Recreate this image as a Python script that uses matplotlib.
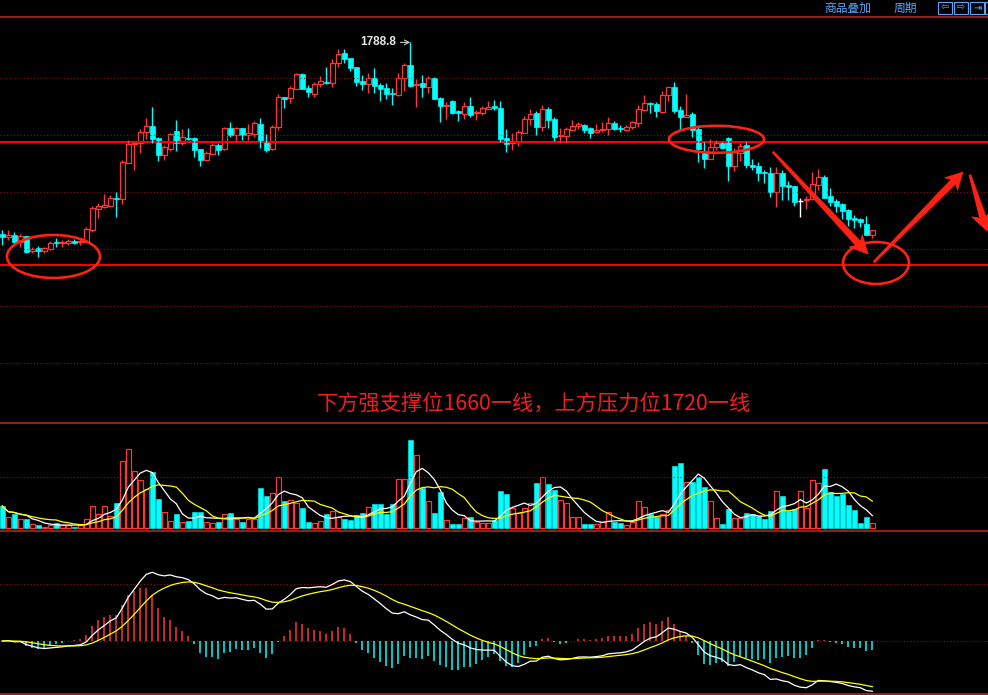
import numpy as np
import pandas as pd
import matplotlib
matplotlib.use("Agg")
import matplotlib.pyplot as plt
from matplotlib.patches import Ellipse, Polygon, Rectangle

# ── Data ─────────────────────────────────────────────────────────────────────
OPEN = [
    1693.0, 1691.5, 1692.5, 1689.0, 1692.0, 1684.3, 1686.0, 1684.7, 1685.7, 1688.8,
    1688.3, 1688.3, 1689.7, 1689.0, 1689.0, 1695.0, 1705.7, 1706.7, 1707.2, 1710.8,
    1710.7, 1728.7, 1737.8, 1738.3, 1744.2, 1746.8, 1741.0, 1732.7, 1735.7, 1744.5,
    1738.3, 1740.8, 1740.8, 1735.5, 1730.2, 1733.2, 1737.3, 1735.3, 1745.8, 1742.5,
    1745.8, 1742.5, 1743.0, 1748.0, 1739.3, 1735.3, 1746.3, 1761.3, 1760.8, 1765.7,
    1773.0, 1766.0, 1763.0, 1767.8, 1769.2, 1768.7, 1778.7, 1783.3, 1781.0, 1776.5,
    1769.5, 1768.0, 1771.0, 1767.5, 1765.8, 1763.7, 1762.5, 1770.8, 1777.5, 1767.3,
    1768.7, 1766.7, 1771.2, 1761.0, 1757.0, 1759.7, 1754.3, 1753.2, 1757.0, 1753.3,
    1753.7, 1755.7, 1757.0, 1756.0, 1741.0, 1738.5, 1739.0, 1743.7, 1750.7, 1753.5,
    1746.7, 1755.5, 1750.5, 1742.0, 1742.2, 1745.2, 1746.8, 1747.5, 1746.0, 1743.8,
    1744.8, 1745.7, 1748.3, 1746.0, 1745.2, 1746.3, 1748.7, 1755.2, 1758.7, 1758.0,
    1754.2, 1762.3, 1766.3, 1755.0, 1751.7, 1753.0, 1745.3, 1733.7, 1730.7, 1736.3,
    1738.5, 1741.0, 1727.0, 1733.7, 1737.5, 1727.7, 1727.0, 1724.2, 1723.3, 1714.2,
    1723.3, 1717.5, 1717.0, 1709.7, 1710.0, 1710.3, 1717.7, 1721.7, 1712.0, 1709.5,
    1708.0, 1705.0, 1701.0, 1700.5, 1698.0, 1692.7,
]
HIGH = [
    1695.0, 1695.0, 1694.0, 1693.0, 1692.0, 1686.7, 1687.0, 1686.7, 1689.7, 1691.0,
    1690.0, 1690.7, 1690.3, 1690.8, 1696.7, 1707.0, 1708.7, 1713.0, 1712.5, 1713.8,
    1730.0, 1740.0, 1738.7, 1745.3, 1751.0, 1756.3, 1741.3, 1737.5, 1743.7, 1750.0,
    1745.5, 1745.8, 1741.7, 1735.5, 1734.7, 1738.7, 1738.3, 1746.7, 1748.8, 1746.7,
    1745.8, 1747.8, 1749.5, 1751.0, 1743.0, 1747.5, 1763.0, 1761.7, 1767.0, 1773.7,
    1773.7, 1767.5, 1769.2, 1772.0, 1776.7, 1780.3, 1785.3, 1785.3, 1781.0, 1776.5,
    1772.3, 1773.7, 1776.0, 1768.3, 1768.3, 1765.8, 1773.7, 1778.7, 1788.8, 1770.5,
    1772.3, 1772.2, 1771.7, 1761.7, 1759.2, 1760.0, 1755.0, 1759.2, 1761.5, 1755.0,
    1757.0, 1759.5, 1760.0, 1759.5, 1745.5, 1743.3, 1745.0, 1752.0, 1755.5, 1754.5,
    1757.7, 1756.5, 1751.3, 1746.0, 1746.3, 1750.0, 1749.0, 1748.0, 1746.7, 1747.8,
    1749.0, 1751.3, 1749.3, 1747.3, 1747.5, 1749.7, 1757.5, 1762.3, 1759.2, 1759.2,
    1764.7, 1766.7, 1769.0, 1757.0, 1763.0, 1754.2, 1747.5, 1739.2, 1740.3, 1740.0,
    1739.2, 1741.7, 1735.8, 1738.3, 1739.2, 1730.3, 1728.8, 1725.0, 1726.7, 1726.3,
    1725.0, 1719.7, 1717.0, 1711.2, 1712.2, 1723.8, 1725.7, 1722.5, 1715.8, 1710.5,
    1708.3, 1705.5, 1702.5, 1700.8, 1702.0, 1695.0,
]
LOW = [
    1687.5, 1690.0, 1687.5, 1686.7, 1683.7, 1683.7, 1681.7, 1683.3, 1685.0, 1686.7,
    1686.7, 1687.5, 1688.0, 1687.5, 1688.3, 1694.2, 1701.2, 1705.8, 1706.7, 1701.7,
    1707.8, 1728.3, 1725.0, 1733.7, 1740.7, 1738.3, 1729.7, 1730.0, 1734.7, 1734.7,
    1737.5, 1740.0, 1731.7, 1727.0, 1730.0, 1733.0, 1732.5, 1735.0, 1741.7, 1739.7,
    1740.0, 1740.0, 1741.3, 1736.2, 1734.2, 1735.0, 1745.0, 1756.2, 1758.7, 1765.3,
    1765.3, 1761.7, 1761.7, 1766.3, 1768.0, 1766.7, 1776.7, 1778.3, 1774.7, 1767.2,
    1765.0, 1763.3, 1763.7, 1759.7, 1760.5, 1757.7, 1762.0, 1764.5, 1766.7, 1756.7,
    1761.7, 1763.7, 1760.3, 1749.2, 1750.5, 1753.0, 1749.5, 1750.5, 1751.7, 1750.0,
    1752.3, 1755.3, 1755.0, 1739.2, 1734.2, 1735.0, 1737.2, 1743.3, 1747.5, 1742.7,
    1744.5, 1745.8, 1739.5, 1738.3, 1738.7, 1745.0, 1745.5, 1743.7, 1741.2, 1743.3,
    1744.0, 1742.3, 1745.0, 1743.8, 1744.3, 1745.5, 1746.7, 1754.7, 1753.7, 1751.7,
    1753.3, 1759.7, 1753.3, 1745.0, 1751.7, 1741.7, 1729.2, 1725.8, 1730.7, 1735.0,
    1735.3, 1719.7, 1724.7, 1729.7, 1725.8, 1725.0, 1719.7, 1718.7, 1711.7, 1706.7,
    1710.0, 1710.0, 1707.2, 1701.3, 1705.7, 1710.0, 1715.0, 1711.2, 1707.2, 1704.2,
    1700.3, 1697.0, 1695.8, 1696.7, 1692.5, 1691.2,
]
CLOSE = [
    1691.7, 1692.5, 1689.0, 1691.8, 1684.0, 1685.3, 1684.7, 1685.8, 1688.3, 1688.3,
    1688.8, 1689.5, 1688.7, 1689.5, 1695.3, 1705.8, 1707.0, 1707.5, 1710.8, 1710.3,
    1728.8, 1738.0, 1738.3, 1744.2, 1746.8, 1740.7, 1732.5, 1736.3, 1742.8, 1738.3,
    1741.3, 1740.3, 1735.0, 1730.0, 1733.5, 1737.3, 1735.0, 1745.8, 1742.5, 1745.8,
    1742.5, 1743.3, 1748.3, 1739.0, 1735.0, 1746.3, 1761.3, 1760.7, 1765.8, 1773.0,
    1765.7, 1764.2, 1767.8, 1769.5, 1768.7, 1778.3, 1783.0, 1780.5, 1776.2, 1769.0,
    1768.0, 1770.8, 1767.2, 1765.5, 1763.0, 1762.8, 1770.8, 1777.5, 1767.0, 1768.2,
    1766.7, 1771.2, 1760.5, 1757.2, 1757.5, 1753.7, 1753.7, 1757.0, 1752.7, 1754.2,
    1755.8, 1756.3, 1756.2, 1740.5, 1738.2, 1739.3, 1744.0, 1750.3, 1753.0, 1746.7,
    1755.5, 1750.0, 1741.7, 1742.7, 1745.5, 1746.8, 1747.8, 1745.0, 1743.7, 1745.0,
    1745.7, 1748.3, 1745.7, 1745.3, 1746.5, 1749.0, 1755.5, 1758.3, 1757.8, 1754.7,
    1762.5, 1766.3, 1754.7, 1751.7, 1752.3, 1745.0, 1735.3, 1730.7, 1736.3, 1738.5,
    1736.2, 1727.0, 1733.8, 1737.2, 1727.5, 1726.7, 1723.3, 1723.3, 1714.2, 1723.3,
    1717.0, 1716.7, 1709.2, 1709.7, 1710.7, 1718.0, 1721.7, 1711.2, 1709.0, 1707.2,
    1704.7, 1700.7, 1700.2, 1699.2, 1692.5, 1695.0,
]
VOLUME = [
    65, 31, 41, 25, 26, 10, 7, 3, 8, 15,
    7, 7, 3, 7, 25, 64, 40, 64, 35, 74,
    199, 235, 169, 142, 115, 167, 86, 46, 19, 41,
    17, 21, 47, 47, 17, 13, 17, 40, 44, 27,
    17, 27, 27, 119, 95, 104, 151, 80, 83, 75,
    59, 17, 13, 20, 41, 50, 33, 27, 24, 37,
    44, 61, 71, 71, 41, 71, 145, 145, 263, 217,
    119, 80, 44, 107, 23, 11, 11, 28, 32, 16,
    13, 13, 23, 110, 101, 58, 43, 58, 73, 134,
    151, 131, 113, 83, 73, 31, 31, 11, 11, 11,
    16, 46, 18, 14, 7, 18, 80, 61, 41, 32,
    42, 53, 185, 194, 137, 138, 151, 122, 80, 28,
    11, 56, 28, 28, 44, 41, 34, 27, 50, 110,
    95, 50, 56, 110, 59, 143, 134, 176, 107, 95,
    101, 68, 53, 14, 32, 14,
]

RESISTANCE = 1738.9
SUPPORT = 1677.6
PRICE_GRID = [1770.9, 1742.4, 1713.9, 1685.4, 1656.9, 1628.4]
NOTE = "下方强支撑位1660一线，上方压力位1720一线"

# ── Colours ──────────────────────────────────────────────────────────────────
RED = "#ff3636"
CYAN = "#00ffff"
GRID = "#8c1414"
BORDER = "#b4241a"
PEN = "#ff2214"
UI_BLUE = "#5aa6ff"

o, h, l, c = (np.array(a) for a in (OPEN, HIGH, LOW, CLOSE))
vol = np.array(VOLUME, dtype=float)
x = np.arange(len(c))
up = c > o
down = c < o
flat = c == o

fig = plt.figure(figsize=(9.88, 6.95), dpi=100, facecolor="black")


def panel(top, bottom):
    ax = fig.add_axes([0, 1 - bottom / 695, 1, (bottom - top) / 695])
    ax.set_facecolor("black")
    ax.set_xlim(-0.38, 164.28)
    ax.set_xticks([])
    ax.set_yticks([])
    for s in ax.spines.values():
        s.set_visible(False)
    return ax


ax_p = panel(17, 423)
ax_v = panel(423, 531)
ax_m = panel(531, 694)

# ── Price panel ──────────────────────────────────────────────────────────────
ax_p.set_ylim(1598.5, 1801.5)
for g in PRICE_GRID:
    ax_p.axhline(g, color=GRID, lw=0.8, ls=(0, (1, 2)))
ax_p.axhline(RESISTANCE, color="#ff0000", lw=1.5)
ax_p.axhline(SUPPORT, color="#ff0000", lw=1.5)

top = np.maximum(o, c)
bot = np.minimum(o, c)
ax_p.vlines(x[up], top[up], h[up], color=RED, lw=1)
ax_p.vlines(x[up], l[up], bot[up], color=RED, lw=1)
ax_p.bar(x[up], (c - o)[up], bottom=o[up], width=0.82,
         facecolor="black", edgecolor=RED, lw=0.9)
ax_p.vlines(x[down], l[down], h[down], color=CYAN, lw=1)
ax_p.bar(x[down], (o - c)[down], bottom=c[down], width=0.82,
         color=CYAN, edgecolor=CYAN, lw=0.5)
ax_p.vlines(x[flat], l[flat], h[flat], color="white", lw=1)
ax_p.hlines(c[flat], x[flat] - 0.4, x[flat] + 0.4, color="white", lw=1)

imax = int(np.argmax(h))
ax_p.annotate(f"{h[imax]:.1f}", xy=(imax, h[imax]), xytext=(-14, 0),
              textcoords="offset pixels", ha="right", va="center",
              color="#e6e6e6", fontsize=8.5, fontweight="bold",
              family="Liberation Sans",
              arrowprops=dict(arrowstyle="->", color="#c8c8c8", lw=0.8,
                              shrinkA=1, shrinkB=0))

# ── Volume panel ─────────────────────────────────────────────────────────────
ax_v.set_ylim(-9.9, 314.1)
ax_v.axhline(151, color=GRID, lw=0.8, ls=(0, (1, 2)))
vup = c >= o
ax_v.bar(x[vup], vol[vup], width=0.82, facecolor="black",
         edgecolor=RED, lw=0.9)
ax_v.bar(x[~vup], vol[~vup], width=0.82, color=CYAN, edgecolor=CYAN, lw=0.4)
vs = pd.Series(vol)
ax_v.plot(x, vs.rolling(5, min_periods=1).mean(), color="white", lw=0.9)
ax_v.plot(x, vs.rolling(10, min_periods=1).mean(), color="#ffff00", lw=0.9)

# ── MACD panel ───────────────────────────────────────────────────────────────
cs = pd.Series(c)
dif = cs.ewm(span=12, adjust=False).mean() - cs.ewm(span=26, adjust=False).mean()
dea = dif.ewm(span=9, adjust=False).mean()
hist = 2 * (dif - dea)
scale = 68.7 / dif.max()          # pixels per unit
ax_m.set_ylim(-53 / scale, 110 / scale)
ax_m.axhline(0, color=GRID, lw=0.8, ls=(0, (1, 2)))
ax_m.axhline(56.7 / scale, color=GRID, lw=0.8, ls=(0, (1, 2)))
ax_m.vlines(x, 0, hist, colors=np.where(hist >= 0, RED, CYAN), lw=1.1)
ax_m.plot(x, dif, color="white", lw=0.9)
ax_m.plot(x, dea, color="#ffff00", lw=0.9)

# ── Overlay: borders, hand-drawn marks, notes, toolbar ───────────────────────
ui = fig.add_axes([0, 0, 1, 1])
ui.set_xlim(0, 988)
ui.set_ylim(695, 0)
ui.axis("off")
ui.patch.set_alpha(0)

for yy in (17, 423, 531, 694):
    ui.plot([0, 988], [yy, yy], color=BORDER, lw=1.2)


def brush_arrow(tail, tip, w0, w1, head_w, head_len):
    tail, tip = np.array(tail, float), np.array(tip, float)
    u = (tip - tail) / np.linalg.norm(tip - tail)
    n = np.array([-u[1], u[0]])
    neck = tip - u * head_len * 0.8
    barb = tip - u * head_len
    pts = [tail + n * w0 / 2, neck + n * w1 / 2, barb + n * head_w / 2, tip,
           barb - n * head_w / 2, neck - n * w1 / 2, tail - n * w0 / 2]
    ui.add_patch(Polygon(pts, closed=True, fc=PEN, ec=PEN, lw=0.5))


brush_arrow((773, 152), (868, 254), 2, 6.5, 18, 18)
brush_arrow((874, 262), (963, 172), 2, 6.5, 18, 17)
brush_arrow((970, 175), (987, 231), 2, 6.5, 21, 18)

for cx, cy, w, hh in [(53.5, 256.5, 93, 43), (716.5, 139.3, 95, 27),
                      (876, 263, 66, 42)]:
    ui.add_patch(Ellipse((cx, cy), w, hh, fill=False, ec=PEN, lw=1.9))

ui.text(534, 404, NOTE, ha="center", va="center", color="#f01e1e",
        fontsize=15.3, family=["Noto Sans CJK SC", "DejaVu Sans"])

ui.text(848, 8, "商品叠加", ha="center", va="center", color=UI_BLUE,
        fontsize=8.5, family=["Noto Sans CJK SC", "DejaVu Sans"])
ui.text(905, 8, "周期", ha="center", va="center", color=UI_BLUE,
        fontsize=8.5, family=["Noto Sans CJK SC", "DejaVu Sans"])
for bx, glyph in [(938, "⇦"), (954, "⇨"), (970, "⇥")]:
    ui.add_patch(Rectangle((bx, 1.5), 14, 12, fill=False, ec=UI_BLUE, lw=0.8))
    ui.text(bx + 7, 7.5, glyph, ha="center", va="center", color=UI_BLUE,
            fontsize=7, family="DejaVu Sans")
ui.add_patch(Rectangle((985, 1.5), 6, 12, fill=False, ec=UI_BLUE, lw=0.8))

fig.savefig("out.png", dpi=100, facecolor="black")
